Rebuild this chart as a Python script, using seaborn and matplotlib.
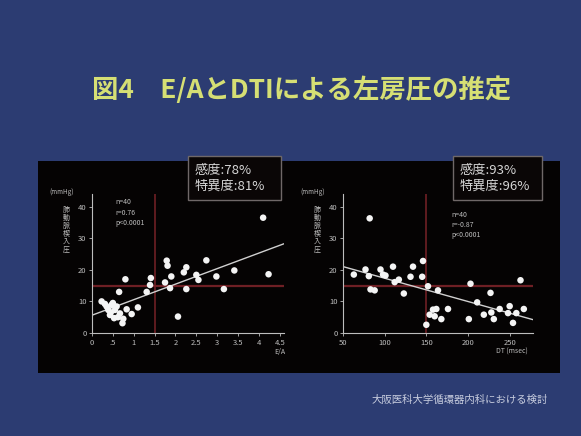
import numpy as np
import pandas as pd
import matplotlib
matplotlib.use("Agg")
import matplotlib.pyplot as plt
from matplotlib.patches import Rectangle
import seaborn as sns

# E/A vs pulmonary capillary wedge pressure
ea_ratio = [4.1, 4.23, 3.41, 2.98, 3.16, 2.74, 2.5, 2.55, 2.26, 2.2, 2.26, 2.06,
            1.79, 1.81, 1.9, 1.87, 1.75, 1.41, 1.39, 1.31, 0.8, 0.65, 0.23, 0.35,
            0.47, 0.55, 0.67, 0.53, 0.73, 0.83, 0.95, 1.1, 0.39, 0.43, 0.59, 0.31,
            0.45, 0.62, 0.5, 0.75]
ea_pcwp = [36.5, 18.6, 19.8, 17.9, 13.9, 23.0, 18.4, 16.8, 20.8, 19.2, 13.9, 5.2,
           22.9, 21.3, 17.9, 14.2, 16.0, 17.4, 15.2, 13.0, 17.0, 13.0, 10.0, 8.4,
           8.9, 7.3, 6.2, 4.7, 3.1, 7.5, 6.0, 8.1, 7.3, 5.7, 8.4, 9.2,
           6.5, 5.0, 9.5, 4.5]

# Deceleration time vs pulmonary capillary wedge pressure
dt_msec = [82, 63, 77, 81, 83, 88, 95, 98, 101, 110, 112, 117, 123, 131, 134,
           146, 145, 152, 164, 150, 154, 158, 162, 168, 176, 160, 203, 201, 211,
           219, 227, 228, 231, 238, 250, 254, 258, 263, 267, 248]
dt_pcwp = [36.3, 18.5, 20.1, 18.0, 13.8, 13.5, 20.1, 18.5, 18.2, 21.0, 16.1, 16.9,
           12.5, 17.8, 21.0, 22.8, 17.8, 14.8, 13.5, 2.6, 5.8, 7.4, 7.6, 4.4, 7.6,
           5.3, 15.6, 4.4, 9.7, 5.8, 12.7, 6.5, 4.4, 7.6, 8.5, 3.2, 6.3, 16.7,
           7.6, 6.3]

ea_ticks = [0, 0.5, 1, 1.5, 2, 2.5, 3, 3.5, 4, 4.5]
ea_ticklabels = ["0", ".5", "1", "1.5", "2", "2.5", "3", "3.5", "4", "4.5"]
dt_ticks = [50, 100, 150, 200, 250]
y_ticks = [0, 10, 20, 30, 40]

ea_cutoff = 1.5
dt_cutoff = 150
pcwp_cutoff = 15

ea_stats = "n=40\nr=0.76\np<0.0001"
dt_stats = "n=40\nr=-0.87\np<0.0001"
ea_box = "感度:78%\n特異度:81%"
dt_box = "感度:93%\n特異度:96%"

title = "図4　E/AとDTIによる左房圧の推定"
footer = "大阪医科大学循環器内科における検討"
ylabel = "肺動脈楔入圧"

sns.set_theme(style="dark")
plt.rcParams["font.family"] = ["Noto Sans CJK JP", "DejaVu Sans"]

W, H = 581, 436
fig = plt.figure(figsize=(W / 100, H / 100), dpi=100)
bg = "#2c3c72"
fig.patch.set_facecolor(bg)

def fx(px):
    return px / W

def fy(py):
    return 1 - py / H

# black panel behind the two scatter plots
fig.patches.append(Rectangle((fx(38), fy(373)), (560 - 38) / W, (373 - 161) / H,
                             transform=fig.transFigure, facecolor="#050303",
                             edgecolor="none", zorder=-5))

fig.text(fx(302), fy(90), title, ha="center", va="center", fontsize=19,
         color="#d6df74", fontweight="bold")
fig.text(fx(460), fy(400), footer, ha="center", va="center", fontsize=7.5,
         color="#c9cedf")

axis_col = "#bdbdbd"
red = "#6e1f24"
point_col = "#f4f4f4"

def style_axes(ax):
    ax.set_facecolor("#050303")
    for side in ["top", "right"]:
        ax.spines[side].set_visible(False)
    for side in ["left", "bottom"]:
        ax.spines[side].set_visible(True)
        ax.spines[side].set_color(axis_col)
        ax.spines[side].set_linewidth(0.8)
    ax.tick_params(colors=axis_col, labelsize=5.5, length=2, width=0.6,
                   bottom=True, left=True, pad=2)
    ax.grid(False)
    ax.set_xlabel("")
    ax.set_ylabel("")

# left: E/A
ax1 = fig.add_axes([fx(92), fy(333), 192 / W, (333 - 194) / H])
ax1.set_xlim(0, 4.6)
ax1.set_ylim(0, 44)
ea_df = pd.DataFrame({"ea": ea_ratio, "pcwp": ea_pcwp})
ax1.axvline(ea_cutoff, color=red, lw=1.2, zorder=1)
ax1.axhline(pcwp_cutoff, color=red, lw=1.6, zorder=1)
sns.regplot(data=ea_df, x="ea", y="pcwp", ax=ax1, scatter=False, ci=None,
            truncate=False, line_kws=dict(color="#d0d0d0", lw=1.0, zorder=2))
sns.scatterplot(data=ea_df, x="ea", y="pcwp", ax=ax1, color=point_col, s=22,
                edgecolor="none", zorder=3)
ax1.set_xticks(ea_ticks)
ax1.set_xticklabels(ea_ticklabels)
ax1.set_yticks(y_ticks)
style_axes(ax1)
ax1.set_xlim(0, 4.6)
ax1.set_ylim(0, 44)
ax1.text(0.12, 0.97, ea_stats, transform=ax1.transAxes, fontsize=5, color=axis_col,
         va="top", ha="left", linespacing=1.4)

# right: DT
ax2 = fig.add_axes([fx(343), fy(333), 190 / W, (333 - 194) / H])
ax2.set_xlim(50, 278)
ax2.set_ylim(0, 44)
dt_df = pd.DataFrame({"dt": dt_msec, "pcwp": dt_pcwp})
ax2.axvline(dt_cutoff, color=red, lw=1.2, zorder=1)
ax2.axhline(pcwp_cutoff, color=red, lw=1.6, zorder=1)
sns.regplot(data=dt_df, x="dt", y="pcwp", ax=ax2, scatter=False, ci=None,
            truncate=False, line_kws=dict(color="#d0d0d0", lw=1.0, zorder=2))
sns.scatterplot(data=dt_df, x="dt", y="pcwp", ax=ax2, color=point_col, s=22,
                edgecolor="none", zorder=3)
ax2.set_xticks(dt_ticks)
ax2.set_yticks(y_ticks)
style_axes(ax2)
ax2.set_xlim(50, 278)
ax2.set_ylim(0, 44)
ax2.text(0.57, 0.88, dt_stats, transform=ax2.transAxes, fontsize=5, color=axis_col,
         va="top", ha="left", linespacing=1.4)

# y-axis captions (unit and vertical label) and x-axis captions
for xl in (62, 313):
    fig.text(fx(xl), fy(192), "(mmHg)", fontsize=4.5, color=axis_col,
             ha="center", va="center")
    fig.text(fx(xl + 4), fy(230), "\n".join(ylabel), fontsize=5, color=axis_col,
             ha="center", va="center", linespacing=1.0)
fig.text(fx(280), fy(352), "E/A", fontsize=5, color=axis_col, ha="center", va="center")
fig.text(fx(512), fy(352), "DT (msec)", fontsize=5, color=axis_col, ha="center",
         va="center")

# sensitivity / specificity boxes
for (x0, x1), txt in (((188, 281), ea_box), ((453, 542), dt_box)):
    fig.patches.append(Rectangle((fx(x0), fy(200)), (x1 - x0) / W, 44 / H,
                                 transform=fig.transFigure, facecolor="#0a0606",
                                 edgecolor="#6f6868", lw=1.0, zorder=5))
    fig.text(fx(x0 + 7), fy(178), txt, fontsize=9.5, color="#d6d6d6",
             ha="left", va="center", linespacing=1.25, zorder=6)

fig.savefig("out.png", dpi=100, facecolor=fig.get_facecolor())
